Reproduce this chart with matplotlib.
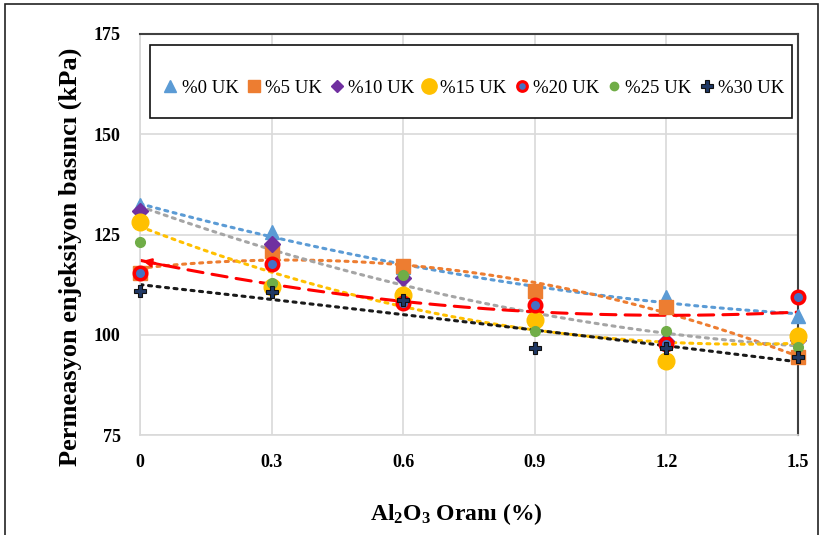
import numpy as np
import matplotlib
matplotlib.use("Agg")
import matplotlib.pyplot as plt
from matplotlib.lines import Line2D

# Al2O3 content (%)
al2o3 = [0, 0.3, 0.6, 0.9, 1.2, 1.5]

# Permeation injection pressure (kPa) for each UK ratio
uk0 = [132.3, 125.5, 117.0, 111.0, 109.3, 104.8]
uk5 = [115.5, 120.9, 117.2, 110.8, 106.8, 94.5]
uk10 = [130.8, 122.6, 114.1, 104.0, 98.5, 98.6]
uk15 = [128.0, 112.0, 110.0, 103.7, 93.5, 99.6]
uk20 = [115.5, 117.6, 107.9, 107.5, 97.8, 109.4]
uk25 = [123.1, 113.0, 114.9, 101.0, 101.0, 97.0]
uk30 = [110.8, 110.6, 108.6, 96.7, 96.8, 94.5]

labels = ["%0 UK", "%5 UK", "%10 UK", "%15 UK", "%20 UK", "%25 UK", "%30 UK"]
y_ticks = [75, 100, 125, 150, 175]
x_ticks = [0, 0.3, 0.6, 0.9, 1.2, 1.5]
x_ticklabels = ["0", "0.3", "0.6", "0.9", "1.2", "1.5"]

serif = ["Liberation Serif", "DejaVu Serif"]
plt.rcParams["mathtext.fontset"] = "custom"
plt.rcParams["mathtext.rm"] = "Liberation Serif:bold"
plt.rcParams["mathtext.bf"] = "Liberation Serif:bold"
plt.rcParams["mathtext.it"] = "Liberation Serif:bold"

W, H = 824, 535
fig = plt.figure(figsize=(W / 100, H / 100), dpi=100)
ax = fig.add_axes([140 / W, 1 - 435 / H, (798 - 140) / W, (435 - 34) / H])

# outer chart frame
fig.patches.append(plt.Rectangle((5 / W, -0.01), 813 / W, 1 - 4 / H + 0.01,
                                 transform=fig.transFigure, fill=False,
                                 edgecolor="#222222", lw=1.2))

ax.set_xlim(0, 1.5)
ax.set_ylim(75, 175)
ax.set_xticks(x_ticks)
ax.set_xticklabels(x_ticklabels)
ax.set_yticks(y_ticks)
ax.grid(True, color="#d9d9d9", lw=1.2)
ax.set_axisbelow(True)
ax.tick_params(length=0, pad=14)
for lab in ax.get_xticklabels() + ax.get_yticklabels():
    lab.set_family(serif)
    lab.set_fontweight("bold")
    lab.set_fontsize(13)
for side in ["left", "bottom"]:
    ax.spines[side].set_color("#d9d9d9")
    ax.spines[side].set_linewidth(1.2)
for side in ["top", "right"]:
    ax.spines[side].set_color("#404040")
    ax.spines[side].set_linewidth(1.5)

xs = np.array(al2o3)
xfine = np.linspace(0, 1.5, 200)
dot = (0, (1, 1.8))


def trend(values, color, style=dot, lw=2.2):
    coeffs = np.polyfit(xs, values, 2)
    yf = np.polyval(coeffs, xfine)
    ax.plot(xfine, yf, color=color, ls=style, lw=lw, dash_capstyle="round", zorder=2)
    return coeffs


trend(uk0, "#5b9bd5")
trend(uk5, "#ed7d31")
trend(uk10, "#a5a5a5")
trend(uk15, "#ffc000")
c20 = trend(uk20, "#ff0000", style=(0, (5, 3)), lw=2.2)
trend(uk30, "#1a1a1a")

# arrowhead at the start of the %20 trend
ax.annotate("", xy=(0.0, np.polyval(c20, 0.0)), xytext=(0.06, np.polyval(c20, 0.06)),
            arrowprops=dict(arrowstyle="-|>", color="#ff0000", lw=1.8,
                            mutation_scale=12), zorder=3)

ax.plot(xs, uk0, ls="none", marker="^", ms=10, color="#5b9bd5", zorder=4, clip_on=False)
ax.plot(xs, uk5, ls="none", marker="s", ms=10, color="#ed7d31", zorder=4, clip_on=False)
ax.plot(xs, uk10, ls="none", marker="D", ms=8, color="#7030a0", zorder=4, clip_on=False)
ax.plot(xs, uk15, ls="none", marker="o", ms=12, color="#ffc000", zorder=4, clip_on=False)
ax.plot(xs, uk20, ls="none", marker="o", ms=9, mfc="#4472c4", mec="#ff0000",
        mew=2.5, zorder=5, clip_on=False)
ax.plot(xs, uk25, ls="none", marker="o", ms=7, color="#70ad47", zorder=5, clip_on=False)
ax.plot(xs, uk30, ls="none", marker="P", ms=9, mfc="#1f3864", mec="#111111",
        mew=0.8, zorder=6, clip_on=False)

handles = [
    Line2D([], [], ls="none", marker="^", ms=9, color="#5b9bd5"),
    Line2D([], [], ls="none", marker="s", ms=9, color="#ed7d31"),
    Line2D([], [], ls="none", marker="D", ms=6, color="#7030a0"),
    Line2D([], [], ls="none", marker="o", ms=11, color="#ffc000"),
    Line2D([], [], ls="none", marker="o", ms=7, mfc="#4472c4", mec="#ff0000", mew=2.2),
    Line2D([], [], ls="none", marker="o", ms=6, color="#70ad47"),
    Line2D([], [], ls="none", marker="P", ms=8, mfc="#1f3864", mec="#111111", mew=0.8),
]

# legend box
box_l, box_r, box_t, box_b = 150, 792, 45, 118
ax.add_patch(plt.Rectangle((box_l / W, 1 - box_b / H), (box_r - box_l) / W,
                           (box_b - box_t) / H, transform=fig.transFigure,
                           facecolor="white", edgecolor="#111111", lw=1.2, zorder=7,
                           clip_on=False))
leg = fig.legend(handles, labels, loc="center", ncol=7,
                 bbox_to_anchor=(474 / W, 1 - 88 / H),
                 prop={"family": serif, "size": 13.5}, frameon=False,
                 handlelength=0.7, handletextpad=0.25, columnspacing=0.45,
                 borderpad=0.2)
leg.set_zorder(8)

ax.set_ylabel("Permeasyon enjeksiyon basıncı (kPa)", family=serif, fontweight="bold",
              fontsize=19)
ax.yaxis.set_label_coords(-0.088, 0.444)
ax.set_xlabel("Al$_2$O$_3$ Oranı (%)", family=serif, fontweight="bold", fontsize=17)
ax.xaxis.set_label_coords(0.48, -0.165)

fig.savefig("out.png", dpi=100)
